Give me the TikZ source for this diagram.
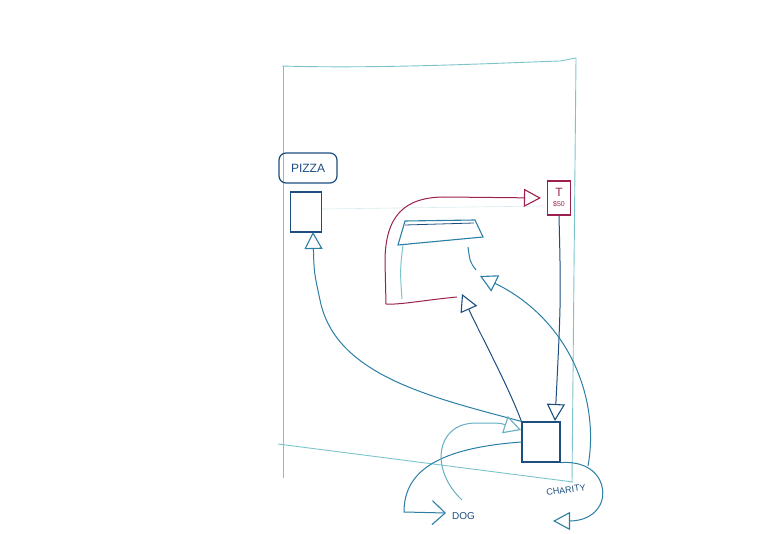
\documentclass[tikz,border=0pt]{standalone}
\usepackage{fontspec}
\setmainfont{Liberation Sans}
\usetikzlibrary{arrows.meta}
\definecolor{dblue}{HTML}{1C4F80}
\definecolor{tealb}{HTML}{2B7FA5}
\definecolor{lteal}{HTML}{7CC4CC}
\definecolor{mag}{HTML}{9C2150}
\tikzset{
  frameline/.style={draw=lteal, line width=0.9pt},
  tri/.tip={Triangle[open,length=17pt,width=18pt,line width=1.1pt]},
  barb/.tip={Straight Barb[length=13pt,width=24pt,line width=1.1pt]},
  conn/.style={line width=1pt},
  boxn/.style={draw=dblue, line width=1.2pt, inner sep=0pt}
}
\begin{document}
\begin{tikzpicture}[x=1pt,y=-1pt]
\useasboundingbox[fill=white] (0,0) rectangle (760,534);
% frame
\draw[frameline] (282,66) .. controls (380,69) and (500,63) .. (560,61) -- (576,58);
\draw[frameline] (576,58) -- (572,482);
\draw[frameline] (283,66) -- (283,478);
\draw[frameline] (278,444) -- (573,482);
\draw[draw=lteal!30, line width=0.6pt] (322,209) -- (545,206);
% nodes
\node[draw=dblue, line width=1.2pt, rounded corners=7pt, minimum width=58pt, minimum height=30pt, text=dblue, font=\large] (pizza) at (308,168) {PIZZA};
\node[boxn, minimum width=31pt, minimum height=40pt] (pbox) at (306,212) {};
\node[boxn, minimum width=38pt, minimum height=40pt] (sbox) at (541,442) {};
\node[draw=mag, line width=1.1pt, text=mag, minimum width=23pt, minimum height=34pt, inner sep=1pt, align=center, font=\large] (tbox) at (559,198) {T\\[-4pt]{\scriptsize\$50}};
% trapezoid
\draw[tealb, line width=1.1pt] (405,221) -- (475,220) -- (483,237) -- (398,245) -- cycle;
\draw[dblue, line width=0.8pt] (405,225) -- (474,223);
\coordinate (trL) at (403,245);
\coordinate (trR) at (468,247);
\coordinate (legL) at (402,299);
\coordinate (legR) at (476,270);
\draw[lteal, conn] (trL) .. controls (400,270) .. (legL);
\draw[tealb, conn] (trR) .. controls (470,262) .. (legR);
% magenta arrow to T
\coordinate (m0) at (457,297);
\draw[mag, conn, -{tri}] (m0) .. controls (425,300) and (400,305) .. (386,304) -- (385,262) .. controls (385,215) and (405,197) .. (445,197) -- ([xshift=-6pt]tbox.west);
% T to screen box
\coordinate (sIn) at (555,421);
\draw[dblue, conn, -{tri}] (tbox.south) .. controls (561,300) .. (sIn);
% screen box to trapezoid
\coordinate (a1) at (462,294);
\coordinate (a2) at (480,276);
\draw[dblue, conn, -{tri}] (sbox.north west) .. controls (508,385) and (478,330) .. (a1);
\coordinate (rt) at (588,466);
\draw[tealb, conn, -{tri}] (rt) .. controls (600,400) and (570,320) .. (a2);
% screen box to pizza box
\coordinate (pIn) at (313,232);
\draw[tealb, conn, -{tri}] (sbox.north west) .. controls (430,397) and (335,375) .. (320,300) .. controls (314,272) .. (pIn);
% dog
\coordinate (dogEnd) at (446,513);
\draw[tealb, conn, -{barb}] (sbox.west) .. controls (440,448) and (404,470) .. (404,512) -- (dogEnd);
\node[dblue, font=\normalsize, anchor=west, inner sep=1pt] (dog) at (451,516) {DOG};
% incoming to screen box
\coordinate (inS) at (462,500);
\coordinate (inEnd) at (521,430);
\draw[lteal!70!tealb, conn, -{tri}] (inS) .. controls (430,470) and (435,424) .. (475,423) .. controls (500,423) .. (inEnd);
% charity
\coordinate (chEnd) at (553,521);
\draw[tealb, conn, -{tri}] (sbox.south east) .. controls (600,460) and (608,490) .. (600,505) .. controls (592,520) and (575,521) .. (chEnd);
\node[dblue, font=\small, rotate=8, inner sep=1pt] (charity) at (566,490) {CHARITY};
\end{tikzpicture}
\end{document}
